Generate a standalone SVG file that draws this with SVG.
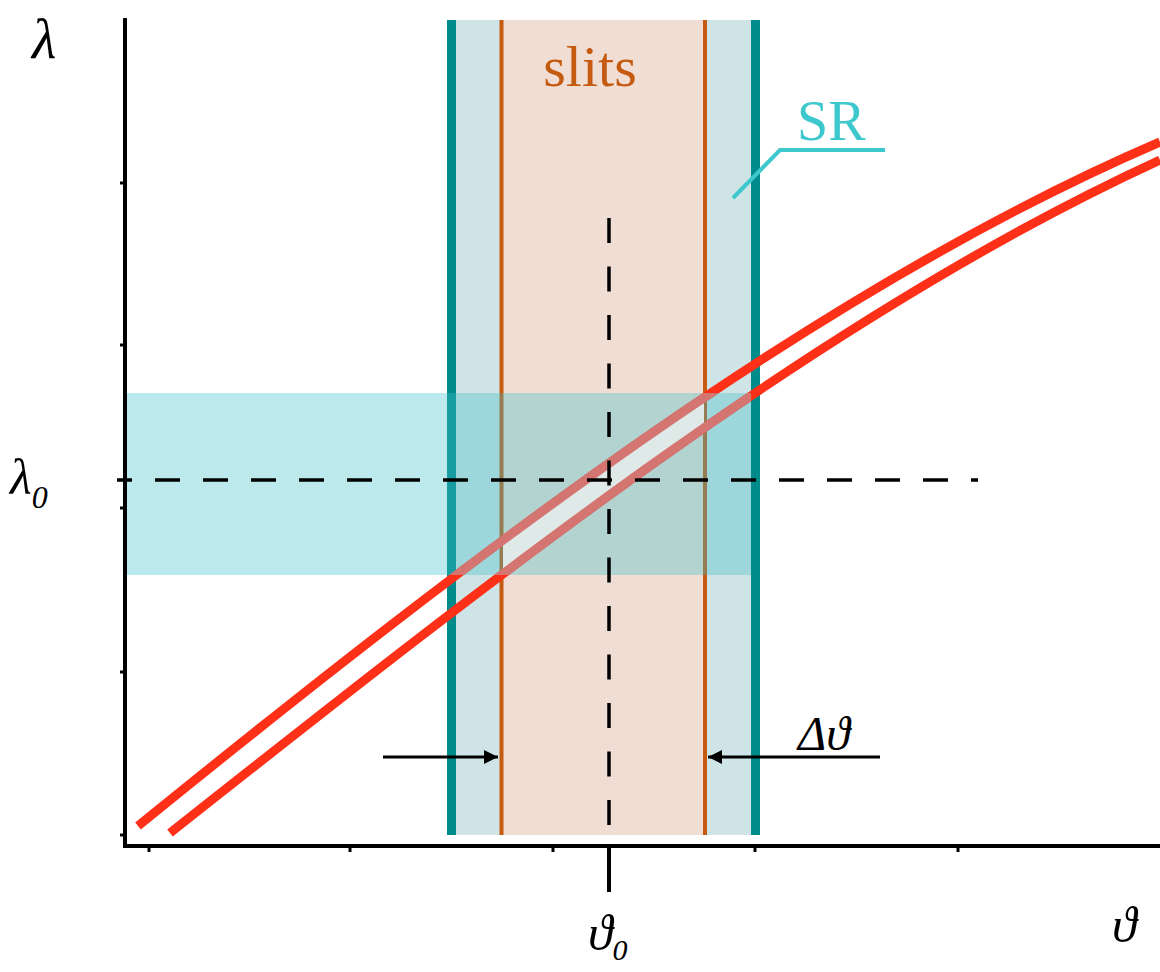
<svg xmlns="http://www.w3.org/2000/svg" width="1160" height="972" viewBox="0 0 1160 972">
  <style>
    .lbl { font-family: "Liberation Serif", "DejaVu Serif", serif; font-style: italic; fill: #000; }
    .red { fill: none; stroke: #ff3018; stroke-width: 9; }
    .pink { fill: none; stroke: #d57571; stroke-width: 9; }
    .dash { fill: none; stroke: #000; stroke-width: 3.5; }
    .teal { stroke: #008b8b; stroke-width: 9; }
    .orange { stroke: #c55a11; stroke-width: 4; }
    .axis { stroke: #000; stroke-width: 4; fill: none; }
    .tick { stroke: #000; stroke-width: 3; }
  </style>
  <defs>
    <path id="upper" d="M138,826 C478,550 820,288 1160,142"/>
    <path id="lower" d="M170,833 C500,572 830,311 1160,160"/>
    <clipPath id="bandClip"><rect x="127" y="393" width="624" height="182"/></clipPath>
    <clipPath id="slitBandClip"><rect x="503" y="393" width="201" height="182"/></clipPath>
    <marker id="arrow" markerUnits="userSpaceOnUse" markerWidth="14" markerHeight="14" refX="14" refY="7" orient="auto">
      <path d="M0,0 L14,7 L0,14 z" fill="#000"/>
    </marker>
  </defs>
  <rect width="1160" height="972" fill="#fff"/>

  <g id="sr-region">
    <rect x="447" y="20" width="313" height="815" fill="#cfe4e6"/>
    <rect x="501" y="20" width="204" height="815" fill="#f0ddd4"/>
    <line class="teal" x1="451.5" y1="20" x2="451.5" y2="835"/>
    <line class="teal" x1="755.5" y1="20" x2="755.5" y2="835"/>
    <line class="orange" x1="501.5" y1="20" x2="501.5" y2="835"/>
    <line class="orange" x1="705" y1="20" x2="705" y2="835"/>
  </g>

  <g id="curve">
    <use href="#upper" class="red"/>
    <use href="#lower" class="red"/>
  </g>

  <g id="band">
    <rect x="127" y="393" width="624" height="182" fill="#3ec0c8" fill-opacity="0.35"/>
    <path clip-path="url(#slitBandClip)" fill="#dfe9e8" d="M138,826 C478,550 820,288 1160,142 L1160,160 C830,311 500,572 170,833 Z"/>
    <g clip-path="url(#bandClip)">
      <use href="#upper" class="pink"/>
      <use href="#lower" class="pink"/>
    </g>
  </g>

  <g id="dashed">
    <line class="dash" x1="117" y1="480" x2="978" y2="480" stroke-dasharray="25 23" stroke-dashoffset="10"/>
    <line class="dash" x1="609" y1="218" x2="609" y2="846" stroke-dasharray="25 23.5"/>
  </g>

  <g id="axes">
    <line class="axis" x1="125" y1="18" x2="125" y2="848"/>
    <line class="axis" x1="123" y1="846" x2="1160" y2="846"/>
    <line class="axis" x1="609" y1="846" x2="609" y2="892"/>
    <line class="tick" x1="149" y1="846" x2="149" y2="852"/>
    <line class="tick" x1="350" y1="846" x2="350" y2="852"/>
    <line class="tick" x1="553" y1="846" x2="553" y2="852"/>
    <line class="tick" x1="755" y1="846" x2="755" y2="852"/>
    <line class="tick" x1="958" y1="846" x2="958" y2="852"/>
    <line class="tick" x1="120" y1="183" x2="125" y2="183"/>
    <line class="tick" x1="120" y1="345" x2="125" y2="345"/>
    <line class="tick" x1="120" y1="508" x2="125" y2="508"/>
    <line class="tick" x1="120" y1="672" x2="125" y2="672"/>
    <line class="tick" x1="120" y1="835" x2="125" y2="835"/>
  </g>

  <g id="arrows">
    <line x1="383" y1="757" x2="498" y2="757" stroke="#000" stroke-width="3" marker-end="url(#arrow)"/>
    <line x1="880" y1="757" x2="708" y2="757" stroke="#000" stroke-width="3" marker-end="url(#arrow)"/>
  </g>

  <g id="sr-label">
    <polyline points="733,198 780,150 885,150" fill="none" stroke="#3cc8cc" stroke-width="4"/>
    <text x="797" y="140" font-family="Liberation Serif, DejaVu Serif, serif" font-size="56" fill="#3cc8cc">SR</text>
  </g>

  <g id="labels">
    <text x="590" y="86" text-anchor="middle" font-family="Liberation Serif, DejaVu Serif, serif" font-size="58" fill="#c55a11">slits</text>
    <text class="lbl" x="32" y="58" font-size="56">λ</text>
    <text class="lbl" x="10" y="494" font-size="50">λ<tspan font-size="32" dy="14">0</tspan></text>
    <text class="lbl" x="798" y="750" font-size="48">Δϑ</text>
    <text class="lbl" x="1112" y="942" font-size="50">ϑ</text>
    <text class="lbl" x="588" y="950" font-size="50">ϑ<tspan font-size="30" dy="10">0</tspan></text>
  </g>
</svg>
